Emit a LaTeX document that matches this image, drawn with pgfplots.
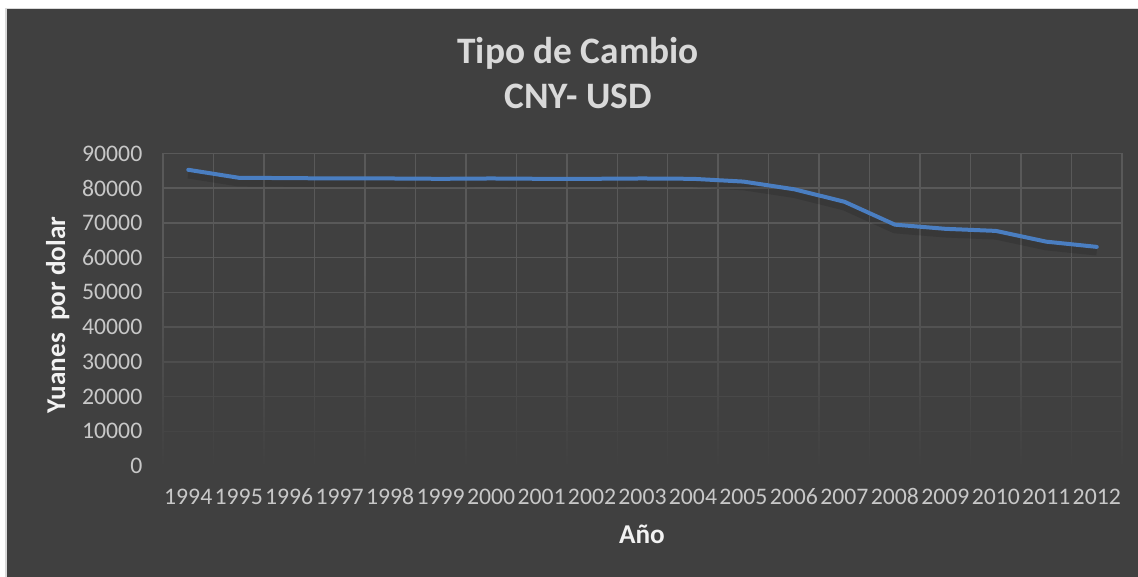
\documentclass[border=0pt]{standalone}
\usepackage{pgfplots}
\pgfplotsset{compat=1.18}
\usepackage{fontspec}
\setmainfont{Carlito}
\usetikzlibrary{fadings}
\definecolor{bg}{HTML}{404040}
\definecolor{gridc}{HTML}{595959}
\definecolor{tickc}{HTML}{C8C8C8}
\definecolor{titc}{HTML}{D9D9D9}
\definecolor{labc}{HTML}{F2F2F2}
\definecolor{linec}{HTML}{4A7EC1}
\begin{document}
\begin{tikzpicture}[x=0.75pt,y=0.75pt]
\useasboundingbox (0,0) rectangle (1138,577);
\fill[white] (0,0) rectangle (1138,577);
\fill[titc] (5,0) rectangle (1138,569);
\fill[bg] (6.5,0) rectangle (1138,567.5);
\begin{axis}[
  at={(122.25pt,83.25pt)}, anchor=south west,
  scale only axis, width=719.25pt, height=234.4pt,
  xmin=0.5, xmax=19.5, ymin=0, ymax=90000,
  scaled y ticks=false,
  axis line style={draw=none},
  major tick style={draw=none}, minor tick style={draw=none},
  xtick={1,...,19},
  xticklabels={1994,1995,1996,1997,1998,1999,2000,2001,2002,2003,2004,2005,2006,2007,2008,2009,2010,2011,2012},
  minor xtick={0.5,1.5,2.5,3.5,4.5,5.5,6.5,7.5,8.5,9.5,10.5,11.5,12.5,13.5,14.5,15.5,16.5,17.5,18.5,19.5},
  xminorgrids=true, xmajorgrids=false,
  ytick={0,10000,20000,30000,40000,50000,60000,70000,80000,90000},
  yticklabels={0,10000,20000,30000,40000,50000,60000,70000,80000,90000},
  ymajorgrids=true,
  major grid style={gridc, line width=1.1pt},
  minor grid style={gridc, line width=1.1pt},
  ticklabel style={font=\fontsize{17.8}{20}\selectfont, text=tickc},
  yticklabel style={anchor=east, xshift=-12pt},
  xticklabel style={anchor=base, yshift=-29.25pt, inner xsep=0pt},
  clip=false,
]
\fill[bg, path fading=north] (axis cs:0.45,-1500) rectangle (axis cs:19.55,55000);
\addplot[black, opacity=0.12, line width=7pt, line join=round, yshift=-3pt, forget plot] coordinates {
(1,85300)(2,83000)(3,82900)(4,82800)(5,82800)(6,82700)(7,82800)(8,82700)(9,82700)(10,82800)
(11,82700)(12,81900)(13,79700)(14,76100)(15,69500)(16,68300)(17,67700)(18,64600)(19,63100)};
\addplot[linec, line width=3pt, line join=round, line cap=round] coordinates {
(1,85300)(2,83000)(3,82900)(4,82800)(5,82800)(6,82700)(7,82800)(8,82700)(9,82700)(10,82800)
(11,82700)(12,81900)(13,79700)(14,76100)(15,69500)(16,68300)(17,67700)(18,64600)(19,63100)};
\end{axis}
\node[anchor=base, text=titc, font=\fontsize{28}{30}\selectfont\bfseries] at (578,513.7) {Tipo de Cambio};
\node[anchor=base, text=titc, font=\fontsize{28}{30}\selectfont\bfseries] at (578,468.7) {CNY- USD};
\node[anchor=base, rotate=90, text=labc, font=\fontsize{20.4}{22}\selectfont\bfseries] at (65,262) {Yuanes\ \ por dolar};
\node[anchor=base, text=labc, font=\fontsize{20.4}{22}\selectfont\bfseries] at (642,33) {Año};
\end{tikzpicture}
\end{document}
